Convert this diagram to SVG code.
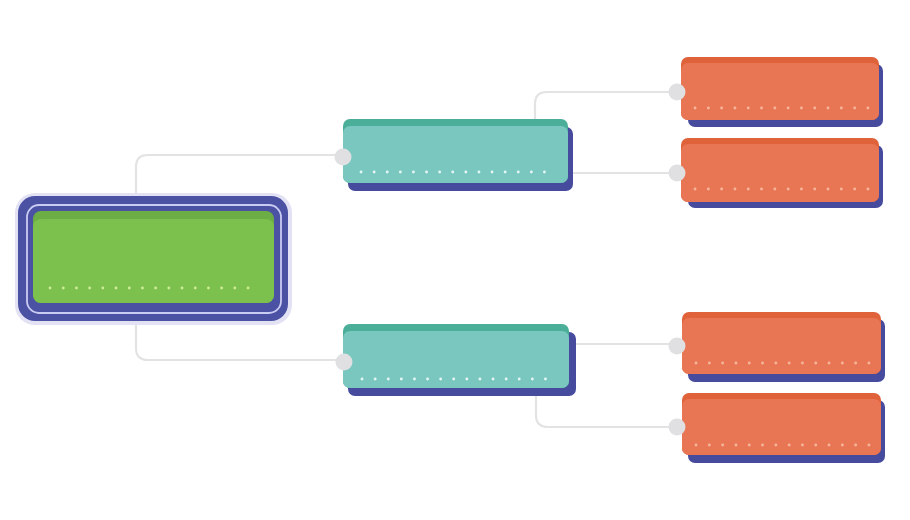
<svg xmlns="http://www.w3.org/2000/svg" width="910" height="520" viewBox="0 0 910 520">
<style>
.wire{fill:none;stroke:#e3e3e3;stroke-width:2.2}
.knob{fill:#e0e0e2}
.shadow{fill:#464b9e}
.tealBand{fill:#4aae98}
.tealBody{fill:#79c7bf}
.orBand{fill:#e0623a}
.orBody{fill:#e87553}
.dotT{stroke:#e4f6f3;stroke-width:2.8;stroke-dasharray:0.1 13;stroke-linecap:round}
.dotO{stroke:#f6b59a;stroke-width:2.8;stroke-dasharray:0.1 13.2;stroke-linecap:round}
.dotG{stroke:#cdeb93;stroke-width:2.8;stroke-dasharray:0.1 13.1;stroke-linecap:round}
</style>
<rect width="910" height="520" fill="#ffffff"/>
<g id="connectors">
<path class="wire" d="M136 193 V167 Q136 155 148 155 H340"/>
<path class="wire" d="M136 325 V348 Q136 360 148 360 H340"/>
<path class="wire" d="M535 119 V104 Q535 92 547 92 H676"/>
<path class="wire" d="M573 173 H676"/>
<path class="wire" d="M576 344 H676"/>
<path class="wire" d="M536 396 V415 Q536 427 548 427 H676"/>
<line x1="448" y1="184" x2="448" y2="190" stroke="#ffffff" stroke-width="2"/>
</g>
<g id="root">
<rect x="15" y="193" width="277" height="132" rx="20" fill="#e2e2f4"/>
<rect x="18" y="196" width="270" height="125" rx="17" fill="#4b51a3"/>
<rect x="27" y="205" width="254" height="108" rx="12" fill="none" stroke="#c9ccf2" stroke-width="1.8"/>
<rect x="33" y="211" width="241" height="92" rx="8" fill="#6cae45"/>
<rect x="33" y="219" width="241" height="84" rx="8" fill="#7cc04d"/>
<line class="dotG" x1="50" y1="288" x2="252" y2="288"/>
</g>
<g id="teal-top">
<rect class="shadow" x="348" y="127" width="225" height="64" rx="7"/>
<rect class="tealBand" x="343" y="119" width="225" height="64" rx="7"/>
<rect class="tealBody" x="343" y="126" width="225" height="57" rx="7"/>
<line class="dotT" x1="361" y1="172" x2="550" y2="172"/>
<circle class="knob" cx="343" cy="157" r="8.5"/>
</g>
<g id="teal-bottom">
<rect class="shadow" x="348" y="332" width="228" height="64" rx="7"/>
<rect class="tealBand" x="343" y="324" width="226" height="64" rx="7"/>
<rect class="tealBody" x="343" y="331" width="226" height="57" rx="7"/>
<line class="dotT" x1="362" y1="379" x2="551" y2="379"/>
<circle class="knob" cx="344" cy="362" r="8.5"/>
</g>
<g id="orange-1">
<rect class="shadow" x="688" y="64" width="195" height="63" rx="7"/>
<rect class="orBand" x="681" y="57" width="198" height="63" rx="7"/>
<rect class="orBody" x="681" y="63" width="198" height="57" rx="7"/>
<line class="dotO" x1="695" y1="108" x2="870" y2="108"/>
<circle class="knob" cx="677" cy="92" r="8.5"/>
</g>
<g id="orange-2">
<rect class="shadow" x="688" y="145" width="195" height="63" rx="7"/>
<rect class="orBand" x="681" y="138" width="198" height="64" rx="7"/>
<rect class="orBody" x="681" y="144" width="198" height="58" rx="7"/>
<line class="dotO" x1="695" y1="189" x2="870" y2="189"/>
<circle class="knob" cx="677" cy="173" r="8.5"/>
</g>
<g id="orange-3">
<rect class="shadow" x="688" y="319" width="197" height="63" rx="7"/>
<rect class="orBand" x="682" y="312" width="199" height="62" rx="7"/>
<rect class="orBody" x="682" y="318" width="199" height="56" rx="7"/>
<line class="dotO" x1="696" y1="363" x2="871" y2="363"/>
<circle class="knob" cx="677" cy="346" r="8.5"/>
</g>
<g id="orange-4">
<rect class="shadow" x="688" y="400" width="197" height="63" rx="7"/>
<rect class="orBand" x="682" y="393" width="199" height="62" rx="7"/>
<rect class="orBody" x="682" y="399" width="199" height="56" rx="7"/>
<line class="dotO" x1="696" y1="445" x2="871" y2="445"/>
<circle class="knob" cx="677" cy="427" r="8.5"/>
</g>
</svg>
